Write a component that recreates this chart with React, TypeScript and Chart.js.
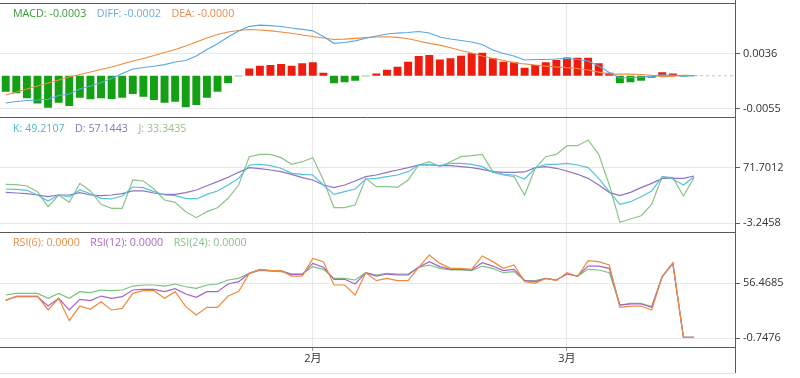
import React, { useEffect, useRef } from 'react';
import { Chart, registerables } from 'chart.js';

Chart.register(...registerables);

// ---- data ----
const xTickPos = [29, 53];
const xTickLabels = ['2月', '3月'];

const macdHist = [
  -0.00265, -0.00291, -0.00374, -0.00457, -0.00529, -0.00447, -0.00501, -0.00364, -0.0039, -0.00374,
  -0.00386, -0.00364, -0.00303, -0.00347, -0.00402, -0.00447, -0.0043, -0.00523, -0.00485, -0.00364,
  -0.00265, -0.00126, -0.00008, 0.00122, 0.00165, 0.00177, 0.00194, 0.00165, 0.00205, 0.00222,
  0.0005, -0.00126, -0.00109, -0.00083, -0.00008, 0.00038, 0.00099, 0.00149, 0.00232, 0.00326,
  0.00342, 0.00271, 0.00288, 0.00331, 0.00371, 0.00381, 0.00288, 0.00232, 0.00222, 0.00132,
  0.00177, 0.00222, 0.0026, 0.00304, 0.00298, 0.00298, 0.00205, 0.0005, -0.00126, -0.00109,
  -0.00083, -0.00033, 0.00056, 0.00038, -0.00013, -0.00005,
];
const diffLine = [
  -0.00451, -0.00426, -0.00409, -0.00401, -0.00389, -0.00327, -0.00302, -0.00219, -0.00169, -0.00112,
  -0.00045, 0.00037, 0.00112, 0.00137, 0.00157, 0.00185, 0.00228, 0.00252, 0.00327, 0.00434,
  0.0053, 0.00641, 0.00741, 0.00818, 0.00837, 0.00828, 0.00815, 0.0079, 0.00769, 0.00744,
  0.0065, 0.00537, 0.0055, 0.00578, 0.0062, 0.00658, 0.00691, 0.00707, 0.00716, 0.00732,
  0.00707, 0.00641, 0.00608, 0.00583, 0.00559, 0.00517, 0.00426, 0.00368, 0.00327, 0.00261,
  0.00269, 0.00269, 0.00277, 0.00286, 0.00269, 0.00244, 0.00161, 0.00054, -0.00037, -0.00029,
  -0.00021, -0.00009, 0.00013, 0.00008, -0.00001, -0.00001,
];
const deaLine = [
  -0.00318, -0.00269, -0.00219, -0.00169, -0.0012, -0.0007, -0.00021, 0.00021, 0.00062, 0.00104,
  0.00145, 0.00195, 0.00244, 0.00286, 0.00335, 0.00385, 0.00434, 0.00492, 0.00559, 0.00625,
  0.00683, 0.00724, 0.00749, 0.00765, 0.00757, 0.00741, 0.00724, 0.00703, 0.00674, 0.0065,
  0.00625, 0.006, 0.00605, 0.0062, 0.00631, 0.00641, 0.00645, 0.00636, 0.00612, 0.00575,
  0.00537, 0.00506, 0.00464, 0.00418, 0.00377, 0.00327, 0.00286, 0.00252, 0.00216, 0.00195,
  0.00178, 0.00158, 0.00145, 0.00133, 0.0012, 0.00095, 0.00059, 0.00029, 0.00026, 0.00026,
  0.00021, 0.00008, -0.00016, -0.00012, 0.00008, 0.00004,
];
const kLine = [
  43.1, 42.6, 41.3, 34.9, 26.7, 34.9, 32.2, 41.7, 36.7, 30.4,
  29.5, 33.5, 45.8, 44.9, 39.5, 34.9, 34.0, 30.4, 29.5, 35.8,
  40.4, 48.5, 57.6, 75.8, 76.7, 74.9, 71.3, 64.4, 63.1, 62.2,
  48.5, 35.8, 39.5, 43.1, 56.7, 57.6, 59.9, 62.2, 66.7, 75.8,
  76.7, 74.9, 78.1, 78.1, 76.7, 73.5, 65.8, 63.1, 62.2, 56.7,
  71.3, 76.7, 76.7, 78.1, 75.8, 72.2, 57.6, 39.5, 22.2, 25.8,
  32.6, 40.4, 59.9, 56.7, 48.5, 59.9,
];
const dLine = [
  38.5, 37.6, 36.7, 34.9, 32.6, 34.9, 34.9, 38.1, 34.9, 34.0,
  34.9, 36.7, 40.4, 40.4, 37.6, 35.8, 35.8, 38.1, 41.7, 47.6,
  53.1, 59.0, 65.8, 72.2, 70.8, 69.0, 66.7, 63.1, 58.5, 55.4,
  48.5, 44.9, 48.5, 54.0, 59.9, 62.2, 65.8, 69.0, 72.2, 75.8,
  75.8, 74.9, 74.9, 73.5, 72.2, 69.9, 66.7, 65.8, 65.8, 66.3,
  72.2, 73.5, 71.3, 67.6, 63.1, 57.6, 48.5, 38.5, 34.0, 38.5,
  44.9, 50.8, 57.6, 57.6, 57.6, 60.8,
];
const jLine = [
  49.4, 49.0, 47.2, 39.5, 19.0, 34.9, 24.9, 50.8, 40.4, 22.2,
  16.8, 16.8, 55.4, 54.0, 43.1, 28.1, 24.9, 12.2, 4.0, 12.2,
  17.6, 30.4, 48.5, 87.1, 90.3, 90.3, 85.8, 76.7, 80.3, 85.8,
  55.4, 17.6, 17.6, 21.3, 57.6, 46.3, 46.3, 45.4, 55.4, 75.8,
  80.3, 73.5, 80.3, 87.1, 88.5, 90.3, 66.7, 62.2, 59.9, 34.9,
  71.3, 87.1, 90.3, 102.1, 102.1, 109.9, 90.3, 48.5, -2.3, 2.2,
  6.7, 22.2, 59.9, 58.5, 33.5, 58.5,
];
const rsi6 = [
  38.1, 42.9, 42.9, 42.9, 28.4, 40.5, 17.3, 32.5, 29.1, 37.0,
  28.4, 30.1, 45.7, 48.5, 48.5, 40.5, 47.5, 31.9, 23.2, 31.2,
  31.2, 42.9, 47.5, 66.5, 70.7, 69.3, 69.3, 63.7, 63.7, 82.1,
  78.7, 54.4, 54.4, 44.0, 67.2, 58.9, 61.3, 58.9, 58.9, 72.8,
  85.6, 76.9, 71.7, 71.7, 70.7, 84.6, 78.7, 71.7, 75.2, 57.9,
  56.1, 61.3, 58.9, 67.2, 63.1, 79.7, 78.7, 75.2, 31.2, 32.5,
  32.5, 28.4, 63.1, 77.6, 0, 0,
];
const rsi12 = [
  38.8, 42.2, 42.2, 42.2, 32.5, 40.5, 28.4, 39.5, 38.1, 42.9,
  40.5, 42.2, 49.2, 49.9, 49.9, 47.5, 50.6, 45.0, 41.6, 47.5,
  47.5, 55.4, 57.9, 66.5, 70.3, 69.3, 69.3, 65.5, 65.5, 76.9,
  72.8, 60.3, 60.3, 55.4, 67.2, 63.7, 65.8, 64.8, 64.8, 72.8,
  78.7, 73.5, 70.7, 70.7, 70.0, 77.6, 74.1, 69.3, 70.7, 59.2,
  57.9, 61.3, 59.6, 65.8, 63.7, 74.1, 74.1, 71.7, 33.6, 34.6,
  34.6, 31.2, 63.1, 76.9, 0, 0,
];
const rsi24 = [
  44.0, 45.7, 45.7, 45.7, 40.5, 45.7, 40.5, 47.5, 46.4, 49.2,
  48.5, 49.2, 53.3, 54.4, 54.4, 53.3, 55.4, 52.6, 50.9, 54.4,
  55.4, 59.6, 61.3, 66.5, 69.6, 68.9, 68.3, 65.8, 65.8, 73.5,
  70.7, 61.3, 61.3, 59.6, 67.2, 64.8, 66.5, 65.8, 65.8, 72.8,
  75.2, 71.7, 70.0, 70.0, 69.3, 74.1, 71.7, 67.2, 68.3, 58.9,
  58.9, 61.3, 59.6, 65.8, 63.7, 70.7, 70.0, 67.2, 33.6, 35.3,
  35.3, 31.9, 63.1, 76.9, 0, 0,
];

const macdTicks = [-0.0055, 0.0036];
const kdjTicks = [-3.2458, 71.7012];
const rsiTicks = [-0.7476, 56.4685];
const macdRange = [-0.006934, 0.012038];
const kdjRange = [-15.96, 140.28];
const rsiRange = [-10.11, 109.18];
const xRange = [-0.54, 68.87];
const lastMacdLevel = 0;

const macdLegend = ['MACD: -0.0003', 'DIFF: -0.0002', 'DEA: -0.0000'];
const kdjLegend = ['K: 49.2107', 'D: 57.1443', 'J: 33.3435'];
const rsiLegend = ['RSI(6): 0.0000', 'RSI(12): 0.0000', 'RSI(24): 0.0000'];

// ---- styles ----
const C = {
  up: '#ee1c0e',
  down: '#14a014',
  diff: '#5aa8e2',
  dea: '#f08c3c',
  k: '#55c3d6',
  d: '#9470c2',
  j: '#8cc488',
  r6: '#f08a3a',
  r12: '#a462cc',
  r24: '#78c47c',
  macdText: '#3a9a3a',
  diffText: '#6aaae0',
  deaText: '#e88a50',
  kText: '#4fb8c8',
  dText: '#8878b8',
  jText: '#98c088',
  r6Text: '#e8904a',
  r12Text: '#a868c8',
  r24Text: '#88c088',
  grid: '#e8e8e8',
  axis: '#5a5a5a',
  text: '#333333',
};
const FONT = "'Open Sans', 'Noto Sans CJK SC', sans-serif";

const xy = (arr: number[]) => arr.map((y, i) => ({ x: i, y }));

function yAxis(range: number[], ticks: number[]) {
  return {
    type: 'linear',
    position: 'right',
    stack: 'panels',
    stackWeight: 1,
    min: range[0],
    max: range[1],
    afterFit: (s: any) => {
      s.width = 65;
      s.paddingTop = 0;
      s.paddingBottom = 0;
    },
    afterBuildTicks: (s: any) => {
      s.ticks = [...ticks.map((v) => ({ value: v })), { value: range[1] }];
    },
    grid: {
      color: (c: any) => (c.tick && c.tick.value === range[1] ? C.axis : C.grid),
      tickColor: (c: any) => (c.tick && c.tick.value === range[1] ? 'rgba(0,0,0,0)' : C.axis),
      tickLength: 5,
      lineWidth: 1,
    },
    border: { display: true, color: C.axis, width: 1 },
    ticks: {
      padding: 3,
      color: C.text,
      autoSkip: false,
      font: { family: FONT, size: 11 },
      callback: (v: number) => (ticks.includes(v) ? v.toFixed(4) : ''),
    },
  };
}

function line(data: number[], color: string, axis: string) {
  return {
    type: 'line',
    data: xy(data),
    borderColor: color,
    borderWidth: 1.2,
    pointRadius: 0,
    tension: 0,
    fill: false,
    yAxisID: axis,
    order: 1,
  };
}

function Legend({ items, colors, top }: { items: string[]; colors: string[]; top: number }) {
  return (
    <div
      style={{
        position: 'absolute',
        left: 13,
        top,
        display: 'flex',
        gap: 10.5,
        fontFamily: FONT,
        fontSize: 10.7,
        lineHeight: '14px',
        whiteSpace: 'nowrap',
        pointerEvents: 'none',
      }}
    >
      {items.map((t, i) => (
        <span key={i} style={{ color: colors[i] }}>
          {t}
        </span>
      ))}
    </div>
  );
}

export default function App() {
  const ref = useRef<HTMLCanvasElement | null>(null);

  useEffect(() => {
    document.body.style.margin = '0';
    const ctx = ref.current;
    if (!ctx) return;
    const chart = new Chart(ctx, {
      type: 'bar',
      data: {
        datasets: [
          {
            type: 'bar',
            data: xy(macdHist),
            backgroundColor: macdHist.map((v) => (v >= 0 ? C.up : C.down)),
            barPercentage: 0.75,
            categoryPercentage: 1,
            yAxisID: 'y1',
            order: 2,
          } as any,
          line(diffLine, C.diff, 'y1'),
          line(deaLine, C.dea, 'y1'),
          {
            type: 'line',
            data: [
              { x: macdHist.length - 1, y: lastMacdLevel },
              { x: xRange[1], y: lastMacdLevel },
            ],
            borderColor: '#c4c4c4',
            borderWidth: 1,
            borderDash: [3, 3],
            pointRadius: 0,
            yAxisID: 'y1',
            order: 3,
          },
          line(kLine, C.k, 'y2'),
          line(dLine, C.d, 'y2'),
          line(jLine, C.j, 'y2'),
          line(rsi6, C.r6, 'y3'),
          line(rsi12, C.r12, 'y3'),
          line(rsi24, C.r24, 'y3'),
        ] as any,
      },
      options: {
        animation: false,
        responsive: false,
        events: [],
        layout: { padding: { top: 3, left: 0, right: 0, bottom: 0 } },
        plugins: { legend: { display: false }, tooltip: { enabled: false } },
        scales: {
          x: {
            type: 'linear',
            position: 'bottom',
            offset: false,
            min: xRange[0],
            max: xRange[1],
            afterFit: (s: any) => {
              s.height = 31;
              s.paddingLeft = 0;
              s.paddingRight = 0;
            },
            afterBuildTicks: (s: any) => {
              s.ticks = xTickPos.map((v) => ({ value: v }));
            },
            grid: { offset: false, color: C.grid, tickColor: '#999', tickLength: 4, lineWidth: 1 },
            border: { display: true, color: C.axis, width: 1 },
            ticks: {
              padding: 1,
              color: C.text,
              maxRotation: 0,
              autoSkip: false,
              font: { family: FONT, size: 11 },
              callback: (v: number) => {
                const k = xTickPos.indexOf(v);
                return k >= 0 ? xTickLabels[k] : '';
              },
            },
          },
          y1: yAxis(macdRange, macdTicks),
          y2: yAxis(kdjRange, kdjTicks),
          y3: yAxis(rsiRange, rsiTicks),
        } as any,
      },
    });
    return () => chart.destroy();
  }, []);

  return (
    <div style={{ position: 'relative', width: 800, height: 378, background: '#fff' }}>
      <canvas ref={ref} width={800} height={378} style={{ display: 'block' }} />
      <Legend items={macdLegend} colors={[C.macdText, C.diffText, C.deaText]} top={6} />
      <Legend items={kdjLegend} colors={[C.kText, C.dText, C.jText]} top={121} />
      <Legend items={rsiLegend} colors={[C.r6Text, C.r12Text, C.r24Text]} top={235} />
      <div style={{ position: 'absolute', left: 735, top: 0, width: 1, height: 3, background: C.axis }} />
      <div style={{ position: 'absolute', left: 735, top: 347, width: 1, height: 26, background: C.axis }} />
      <div style={{ position: 'absolute', left: 0, top: 373, width: 735, height: 1, background: '#e2e2e2' }} />
    </div>
  );
}
